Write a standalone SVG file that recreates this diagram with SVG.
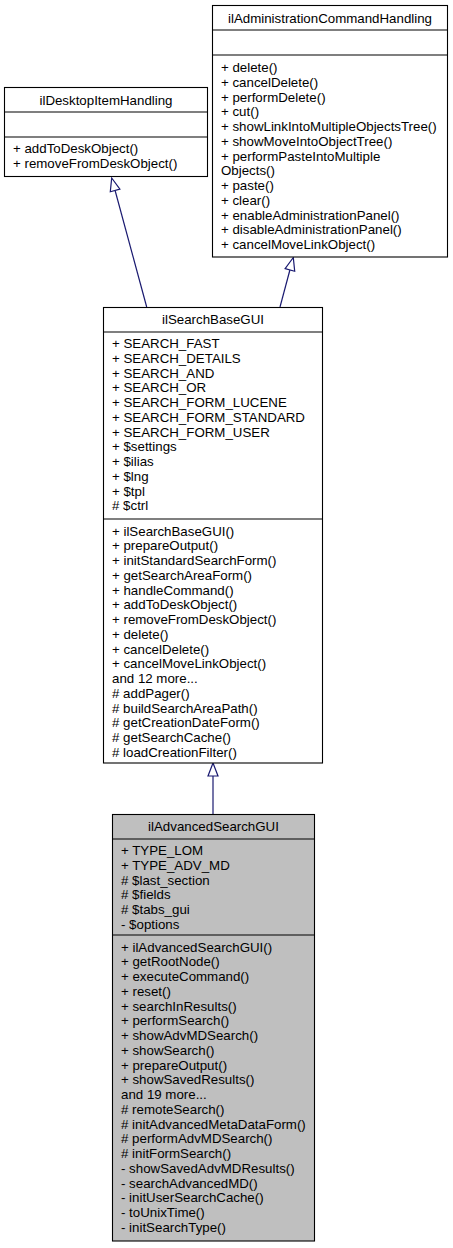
<svg xmlns="http://www.w3.org/2000/svg" width="453" height="1248" viewBox="0 0 453 1248">
<style>
.box{fill:#ffffff;stroke:#000000;stroke-width:1.1}
.cur{fill:#bfbfbf;stroke:#000000;stroke-width:1.1}
.sep{stroke:#000000;stroke-width:1.1}
text{font-family:"Liberation Sans",Arial,Helvetica,sans-serif;font-size:13.3px;fill:#000000}
.t{text-anchor:middle}
.edge{stroke:#191970;stroke-width:1.2;fill:none}
.head{stroke:#191970;stroke-width:1.2;fill:#ffffff}
</style>
<rect width="453" height="1248" fill="#ffffff"/>
<g id="connectors">
<path class="edge" d="M146.7,307 L115.1,190.5"/>
<polygon class="head" points="111.7,178 119.9,189.2 110.3,191.8"/>
<path class="edge" d="M280,307 L289.9,270"/>
<polygon class="head" points="293.3,257.5 294.7,271.3 285.1,268.7"/>
<path class="edge" d="M213,814 L213,776"/>
<polygon class="head" points="213,763 218,776 208,776"/>
</g>
<g id="ilDesktopItemHandling">
<rect class="box" x="4.5" y="87.5" width="203" height="89"/>
<line class="sep" x1="4.5" y1="112" x2="207.5" y2="112"/>
<line class="sep" x1="4.5" y1="137" x2="207.5" y2="137"/>
<text class="t" x="106" y="104.5">ilDesktopItemHandling</text>
<text x="13" y="153">+ addToDeskObject()</text>
<text x="13" y="167.75">+ removeFromDeskObject()</text>
</g>
<g id="ilAdministrationCommandHandling">
<rect class="box" x="212.5" y="5.5" width="235" height="251.5"/>
<line class="sep" x1="212.5" y1="30" x2="447.5" y2="30"/>
<line class="sep" x1="212.5" y1="55" x2="447.5" y2="55"/>
<text class="t" x="330" y="22.5">ilAdministrationCommandHandling</text>
<text x="221" y="72">+ delete()</text>
<text x="221" y="86.75">+ cancelDelete()</text>
<text x="221" y="101.5">+ performDelete()</text>
<text x="221" y="116.25">+ cut()</text>
<text x="221" y="131">+ showLinkIntoMultipleObjectsTree()</text>
<text x="221" y="145.75">+ showMoveIntoObjectTree()</text>
<text x="221" y="160.5">+ performPasteIntoMultiple</text>
<text x="221" y="175.25">Objects()</text>
<text x="221" y="190">+ paste()</text>
<text x="221" y="204.75">+ clear()</text>
<text x="221" y="219.5">+ enableAdministrationPanel()</text>
<text x="221" y="234.25">+ disableAdministrationPanel()</text>
<text x="221" y="249">+ cancelMoveLinkObject()</text>
</g>
<g id="ilSearchBaseGUI">
<rect class="box" x="103.5" y="307.5" width="219" height="455.5"/>
<line class="sep" x1="103.5" y1="332" x2="322.5" y2="332"/>
<line class="sep" x1="103.5" y1="519" x2="322.5" y2="519"/>
<text class="t" x="213" y="324">ilSearchBaseGUI</text>
<text x="112" y="348">+ SEARCH_FAST</text>
<text x="112" y="362.75">+ SEARCH_DETAILS</text>
<text x="112" y="377.5">+ SEARCH_AND</text>
<text x="112" y="392.25">+ SEARCH_OR</text>
<text x="112" y="407">+ SEARCH_FORM_LUCENE</text>
<text x="112" y="421.75">+ SEARCH_FORM_STANDARD</text>
<text x="112" y="436.5">+ SEARCH_FORM_USER</text>
<text x="112" y="451.25">+ $settings</text>
<text x="112" y="466">+ $ilias</text>
<text x="112" y="480.75">+ $lng</text>
<text x="112" y="495.5">+ $tpl</text>
<text x="112" y="510.25"># $ctrl</text>
<text x="112" y="535.5">+ ilSearchBaseGUI()</text>
<text x="112" y="550.25">+ prepareOutput()</text>
<text x="112" y="565">+ initStandardSearchForm()</text>
<text x="112" y="579.75">+ getSearchAreaForm()</text>
<text x="112" y="594.5">+ handleCommand()</text>
<text x="112" y="609.25">+ addToDeskObject()</text>
<text x="112" y="624">+ removeFromDeskObject()</text>
<text x="112" y="638.75">+ delete()</text>
<text x="112" y="653.5">+ cancelDelete()</text>
<text x="112" y="668.25">+ cancelMoveLinkObject()</text>
<text x="112" y="683">and 12 more...</text>
<text x="112" y="697.75"># addPager()</text>
<text x="112" y="712.5"># buildSearchAreaPath()</text>
<text x="112" y="727.25"># getCreationDateForm()</text>
<text x="112" y="742"># getSearchCache()</text>
<text x="112" y="756.75"># loadCreationFilter()</text>
</g>
<g id="ilAdvancedSearchGUI">
<rect class="cur" x="112.5" y="814.5" width="202" height="426.5"/>
<line class="sep" x1="112.5" y1="839" x2="314.5" y2="839"/>
<line class="sep" x1="112.5" y1="935" x2="314.5" y2="935"/>
<text class="t" x="213.5" y="831">ilAdvancedSearchGUI</text>
<text x="121" y="855">+ TYPE_LOM</text>
<text x="121" y="869.75">+ TYPE_ADV_MD</text>
<text x="121" y="884.5"># $last_section</text>
<text x="121" y="899.25"># $fields</text>
<text x="121" y="914"># $tabs_gui</text>
<text x="121" y="928.75">- $options</text>
<text x="121" y="951.5">+ ilAdvancedSearchGUI()</text>
<text x="121" y="966.25">+ getRootNode()</text>
<text x="121" y="981">+ executeCommand()</text>
<text x="121" y="995.75">+ reset()</text>
<text x="121" y="1010.5">+ searchInResults()</text>
<text x="121" y="1025.25">+ performSearch()</text>
<text x="121" y="1040">+ showAdvMDSearch()</text>
<text x="121" y="1054.75">+ showSearch()</text>
<text x="121" y="1069.5">+ prepareOutput()</text>
<text x="121" y="1084.25">+ showSavedResults()</text>
<text x="121" y="1099">and 19 more...</text>
<text x="121" y="1113.75"># remoteSearch()</text>
<text x="121" y="1128.5"># initAdvancedMetaDataForm()</text>
<text x="121" y="1143.25"># performAdvMDSearch()</text>
<text x="121" y="1158"># initFormSearch()</text>
<text x="121" y="1172.75">- showSavedAdvMDResults()</text>
<text x="121" y="1187.5">- searchAdvancedMD()</text>
<text x="121" y="1202.25">- initUserSearchCache()</text>
<text x="121" y="1217">- toUnixTime()</text>
<text x="121" y="1231.75">- initSearchType()</text>
</g>
</svg>
